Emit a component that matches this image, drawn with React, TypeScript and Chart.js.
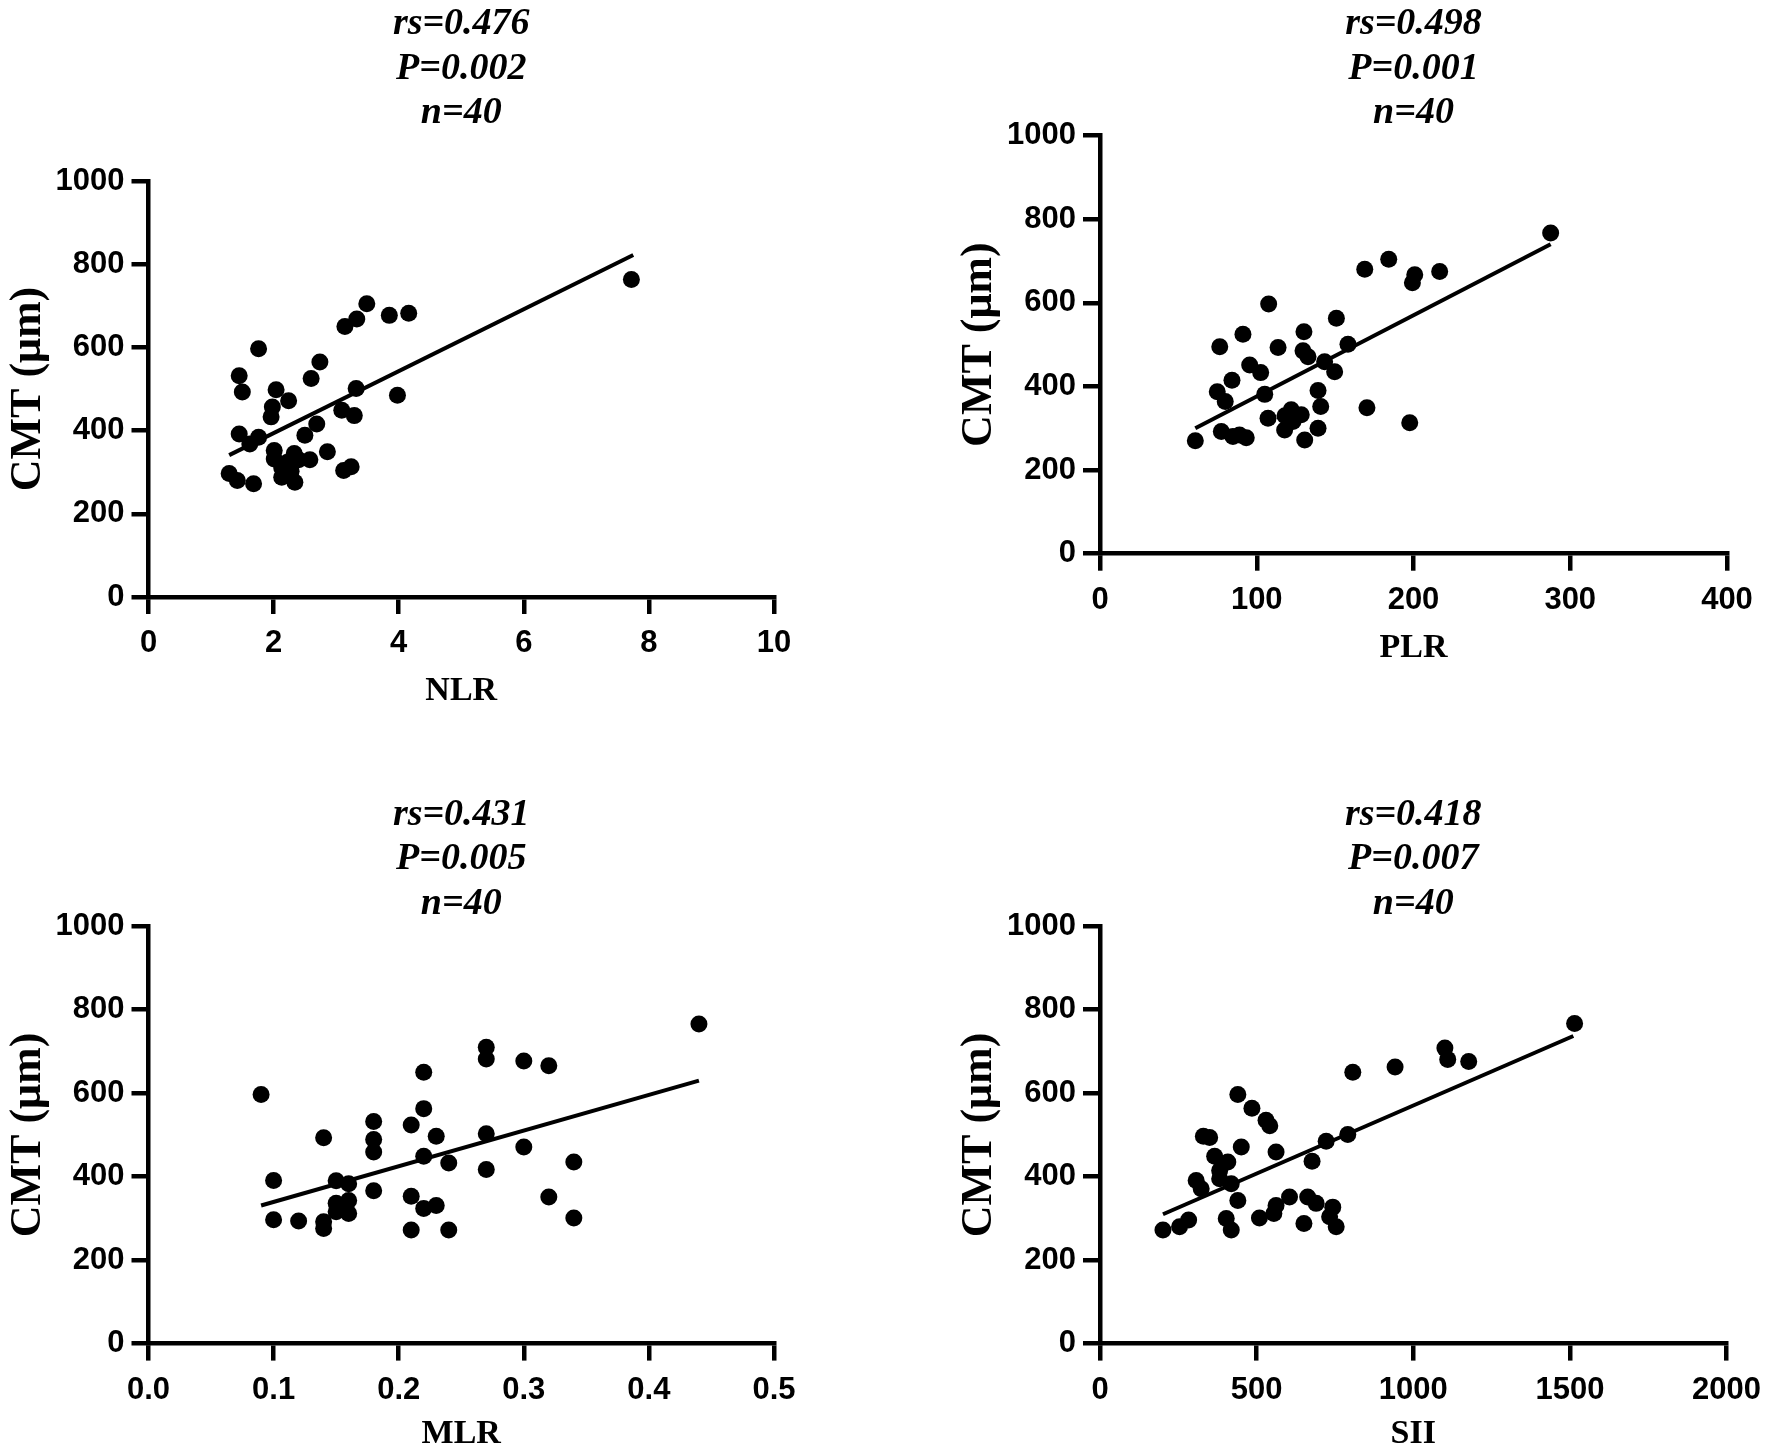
import { useEffect, useRef } from "react";
import Chart from "chart.js/auto";

// values
const nlrX = [3.49, 3.33, 3.14, 3.85, 4.16, 1.76, 1.45, 1.5, 2.74, 2.6, 2.04, 2.24, 1.98, 1.96, 3.32, 3.98, 3.09, 3.29, 1.45, 1.62, 1.76, 2.69, 2.5, 2.01, 2.01, 2.33, 2.58, 2.86, 2.22, 2.13, 2.34, 3.12, 3.24, 1.29, 1.42, 1.68, 7.72, 2.13, 2.28, 2.4];
const nlrY = [705, 668, 650, 677, 682, 597, 532, 493, 565, 525, 498, 472, 457, 433, 501, 485, 449, 436, 392, 368, 384, 416, 389, 352, 332, 345, 330, 349, 324, 288, 276, 304, 313, 297, 280, 272, 763, 310, 302, 330];
const nlrFitX = [1.29, 7.75];
const nlrFitY = [341, 822];

const plrX = [168.9, 184.2, 200.8, 199.3, 216.7, 107.6, 150.8, 91.2, 130.1, 76.4, 113.6, 129.5, 132.7, 158.2, 143.3, 149.7, 95.5, 102.5, 84.2, 74.8, 79.9, 105.1, 139.1, 140.8, 170.3, 197.6, 107.2, 122, 128.4, 117.8, 123.1, 139.1, 130.6, 77.4, 84.8, 93.3, 60.8, 287.5, 89, 118];
const plrY = [680, 704, 667, 648, 675, 597, 563, 525, 531, 495, 493, 485, 471, 501, 459, 435, 451, 433, 415, 387, 364, 381, 390, 352, 349, 313, 324, 344, 332, 296, 316, 300, 272, 292, 280, 277, 270, 767, 284, 330];
const plrFitX = [60.8, 287.5];
const plrFitY = [300, 740];

const mlrX = [0.09, 0.1, 0.1, 0.12, 0.14, 0.14, 0.14, 0.15, 0.15, 0.15, 0.16, 0.16, 0.16, 0.18, 0.18, 0.18, 0.18, 0.22, 0.22, 0.21, 0.23, 0.22, 0.24, 0.21, 0.22, 0.23, 0.21, 0.24, 0.27, 0.27, 0.3, 0.32, 0.44, 0.27, 0.3, 0.34, 0.27, 0.32, 0.34, 0.155];
const mlrY = [597, 391, 297, 294, 292, 276, 493, 390, 336, 316, 383, 343, 312, 532, 489, 459, 366, 650, 563, 524, 497, 449, 433, 353, 324, 331, 272, 272, 710, 682, 677, 666, 766, 503, 471, 435, 417, 351, 301, 325];
const mlrFitX = [0.09, 0.44];
const mlrFitY = [331, 630];

const siiX = [440, 485, 530, 542, 330, 350, 451, 562, 366, 408, 382, 382, 419, 307, 323, 440, 677, 722, 791, 807, 605, 562, 555, 663, 690, 743, 733, 754, 651, 509, 403, 419, 201, 254, 283, 942, 1101, 1110, 1177, 1515];
const siiY = [597, 564, 535, 522, 497, 494, 471, 459, 449, 435, 415, 395, 383, 391, 371, 343, 437, 485, 501, 650, 351, 331, 312, 351, 336, 327, 304, 280, 288, 301, 300, 272, 272, 280, 296, 663, 708, 681, 676, 767];
const siiFitX = [201, 1511];
const siiFitY = [310, 737];

const yTicks = [0, 200, 400, 600, 800, 1000];

const sans = "'Liberation Sans', Arial, sans-serif";
const serif = "'Liberation Serif', 'Times New Roman', serif";

interface PanelProps {
  xs: number[];
  ys: number[];
  fitX: number[];
  fitY: number[];
  title: string[];
  xLabel: string;
  xMax: number;
  xStep: number;
  decimals: number;
  left: number;
  top: number;
  width: number;
  padRight: number;
  padBottom: number;
  yWidth: number;
  xHeight: number;
  titleTop: number;
  titleBottom: number;
}

function Panel(p: PanelProps) {
  const canvasRef = useRef<HTMLCanvasElement>(null);

  useEffect(() => {
    if (!canvasRef.current) return;
    const points = p.xs.map((x, i) => ({ x, y: p.ys[i] }));
    const fit = p.fitX.map((x, i) => ({ x, y: p.fitY[i] }));

    const tickFont = { family: sans, size: 31, weight: "bold" as const };
    const axisGrid = {
      display: true,
      drawOnChartArea: false,
      drawTicks: true,
      tickLength: 17,
      lineWidth: 4.5,
      color: "#000",
    };

    const chart = new Chart(canvasRef.current, {
      type: "scatter",
      data: {
        datasets: [
          {
            type: "scatter",
            data: points,
            pointRadius: 8.5,
            pointHoverRadius: 8.5,
            backgroundColor: "#000",
            borderWidth: 0,
          },
          {
            type: "line",
            data: fit,
            borderColor: "#000",
            borderWidth: 4,
            pointRadius: 0,
            fill: false,
            tension: 0,
          } as any,
        ],
      },
      options: {
        animation: false,
        responsive: false,
        maintainAspectRatio: false,
        devicePixelRatio: 1,
        events: [],
        layout: { padding: { left: 0, top: 0, right: p.padRight, bottom: p.padBottom } },
        plugins: {
          legend: { display: false },
          tooltip: { enabled: false },
          title: {
            display: true,
            fullSize: false, // centre the stats over the plot area, not the canvas
            text: p.title,
            color: "#000",
            font: { family: serif, size: 38, style: "italic", weight: "bold", lineHeight: 44.5 / 38 },
            padding: { top: p.titleTop, bottom: p.titleBottom },
          },
        },
        scales: {
          x: {
            type: "linear",
            min: 0,
            max: p.xMax,
            ticks: {
              stepSize: p.xStep,
              color: "#000",
              font: tickFont,
              padding: 11,
              callback: (v) => Number(v).toFixed(p.decimals),
            },
            grid: axisGrid,
            border: { display: true, width: 4.5, color: "#000" },
            title: {
              display: true,
              text: p.xLabel,
              color: "#000",
              font: { family: serif, size: 34, weight: "bold" },
              padding: 0,
            },
            afterFit: (s) => {
              s.height = p.xHeight;
            },
          },
          y: {
            type: "linear",
            min: 0,
            max: 1000,
            afterBuildTicks: (s) => {
              s.ticks = yTicks.map((value) => ({ value }));
            },
            ticks: {
              color: "#000",
              font: tickFont,
              padding: 7,
              callback: (v) => String(v),
            },
            grid: axisGrid,
            border: { display: true, width: 4.5, color: "#000" },
            title: {
              display: true,
              text: "CMT (μm)",
              color: "#000",
              font: { family: serif, size: 44, weight: "bold" },
              padding: { top: 2, bottom: 0 },
            },
            afterFit: (s) => {
              s.width = p.yWidth;
            },
          },
        },
      },
    });

    return () => {
      chart.destroy();
    };
  }, [p]);

  return (
    <canvas
      ref={canvasRef}
      width={p.width}
      height={728}
      style={{ position: "absolute", left: p.left, top: p.top, width: p.width, height: 728 }}
    />
  );
}

const panels: PanelProps[] = [
  {
    xs: nlrX, ys: nlrY, fitX: nlrFitX, fitY: nlrFitY,
    title: ["rs=0.476", "P=0.002", "n=40"], xLabel: "NLR", xMax: 10, xStep: 2, decimals: 0,
    left: 0, top: 0, width: 886, padRight: 112, padBottom: 16.6, yWidth: 148.5, xHeight: 114.4,
    titleTop: 2, titleBottom: 45.5,
  },
  {
    xs: plrX, ys: plrY, fitX: plrFitX, fitY: plrFitY,
    title: ["rs=0.498", "P=0.001", "n=40"], xLabel: "PLR", xMax: 400, xStep: 100, decimals: 0,
    left: 951, top: 0, width: 821, padRight: 45, padBottom: 59.6, yWidth: 149, xHeight: 114.7,
    titleTop: 2, titleBottom: 0,
  },
  {
    xs: mlrX, ys: mlrY, fitX: mlrFitX, fitY: mlrFitY,
    title: ["rs=0.431", "P=0.005", "n=40"], xLabel: "MLR", xMax: 0.5, xStep: 0.1, decimals: 1,
    left: 0, top: 728, width: 886, padRight: 112, padBottom: 1.6, yWidth: 148.5, xHeight: 110.8,
    titleTop: 64.75, titleBottom: 0,
  },
  {
    xs: siiX, ys: siiY, fitX: siiFitX, fitY: siiFitY,
    title: ["rs=0.418", "P=0.007", "n=40"], xLabel: "SII", xMax: 2000, xStep: 500, decimals: 0,
    left: 951, top: 728, width: 821, padRight: 45, padBottom: 1.6, yWidth: 149, xHeight: 110.8,
    titleTop: 64.75, titleBottom: 0,
  },
];

export default function App() {
  return (
    <div
      style={{
        position: "absolute",
        left: 0,
        top: 0,
        width: 1772,
        height: 1456,
        overflow: "hidden",
        background: "#fff",
      }}
    >
      {panels.map((p) => (
        <Panel key={p.xLabel} {...p} />
      ))}
    </div>
  );
}
